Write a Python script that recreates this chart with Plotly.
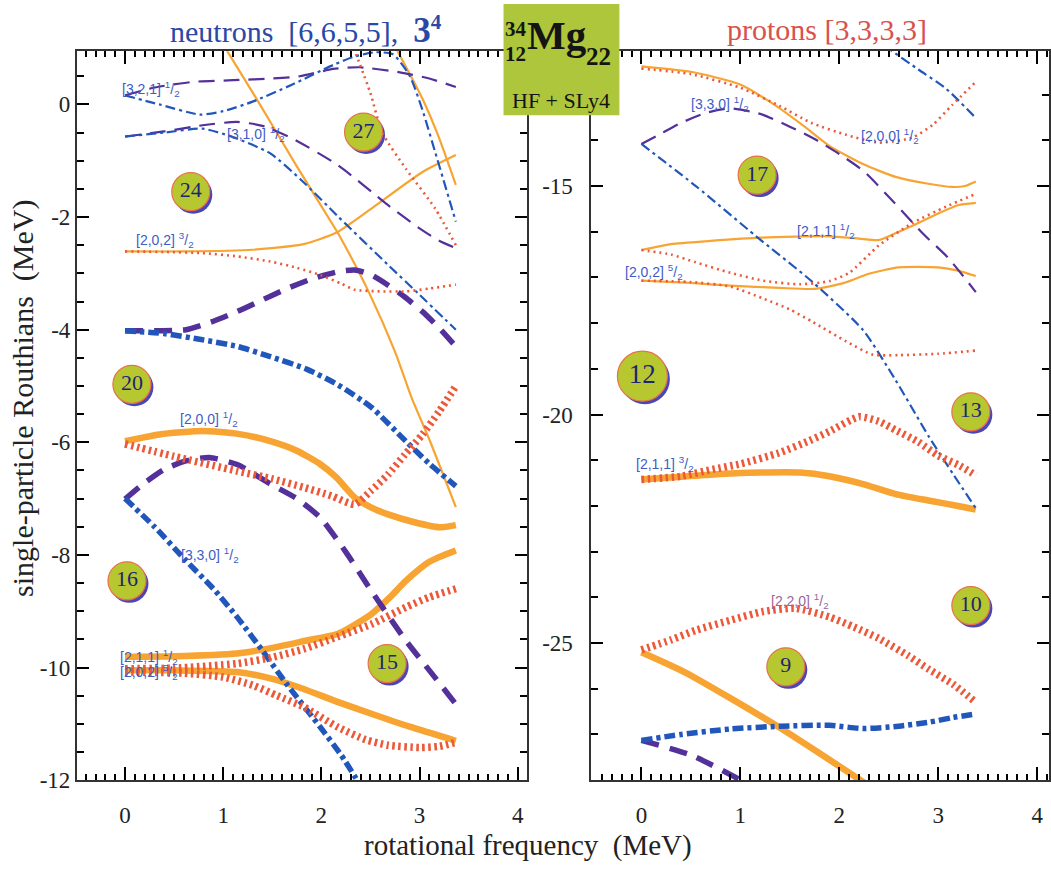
import plotly.graph_objects as go

# ---------------- neutron Routhians (left panel) ----------------
# rotational frequency (MeV) and Routhian (MeV) for each level
n_321_w = [0, 0.3, 0.69, 1.1, 1.5, 1.78, 2.12, 2.39, 2.8, 3.1, 3.37]
n_321_e = [0.16, 0.3, 0.4, 0.43, 0.46, 0.5, 0.63, 0.66, 0.57, 0.46, 0.31]

n_321b_w = [0, 0.35, 0.76, 1.0, 1.3, 1.7, 2.12, 2.32, 2.55, 2.73, 2.9, 3.03, 3.16, 3.37]
n_321b_e = [0.16, 0.0, -0.18, -0.12, 0.05, 0.35, 0.7, 0.84, 0.93, 0.89, 0.51, -0.1, -0.85, -2.08]

n_310_w = [0, 0.4, 0.79, 1.14, 1.4, 1.7, 2.17, 2.68, 3.0, 3.2, 3.37]
n_310_e = [-0.57, -0.48, -0.37, -0.31, -0.38, -0.6, -1.08, -1.79, -2.2, -2.42, -2.55]

n_310b_w = [0, 0.4, 0.79, 1.1, 1.48, 1.8, 2.17, 2.68, 3.0, 3.37]
n_310b_e = [-0.57, -0.5, -0.43, -0.58, -0.87, -1.35, -1.99, -2.85, -3.38, -4.0]

n_steep1_w = [0.98, 1.34, 1.75, 2.15, 2.2, 2.48, 2.75, 2.92, 3.1, 3.37]
n_steep1_e = [1.12, 0.1, -1.1, -2.23, -2.38, -3.32, -4.39, -5.21, -5.95, -7.15]

n_202a_w = [0, 0.6, 1.3, 1.82, 2.15, 2.51, 3.03, 3.37]
n_202a_e = [-2.61, -2.61, -2.58, -2.48, -2.28, -1.85, -1.2, -0.9]

n_steep2_w = [2.76, 3.03, 3.2, 3.37]
n_steep2_e = [1.0, 0.1, -0.6, -1.43]

n_dot1_w = [2.33, 2.5, 2.62, 2.86, 3.16, 3.37]
n_dot1_e = [1.0, 0.2, -0.5, -1.14, -1.85, -2.5]

n_202b_w = [0, 0.4, 0.79, 1.15, 1.48, 1.75, 1.99, 2.2, 2.34, 2.6, 2.86, 3.1, 3.37]
n_202b_e = [-2.61, -2.62, -2.64, -2.7, -2.79, -2.9, -3.03, -3.18, -3.29, -3.32, -3.32, -3.27, -3.2]

n_d4_w = [0, 0.3, 0.62, 0.9, 1.14, 1.4, 1.65, 1.9, 2.17, 2.34, 2.5, 2.68, 2.85, 3.03, 3.2, 3.37]
n_d4_e = [-4.02, -4.02, -4.0, -3.85, -3.68, -3.47, -3.27, -3.1, -2.97, -2.94, -3.02, -3.21, -3.42, -3.68, -3.97, -4.3]

n_c4_w = [0, 0.4, 0.79, 1.15, 1.48, 1.85, 2.17, 2.51, 2.86, 3.1, 3.37]
n_c4_e = [-4.02, -4.07, -4.18, -4.3, -4.48, -4.7, -4.98, -5.38, -5.98, -6.38, -6.78]

n_200_w = [0, 0.35, 0.79, 1.15, 1.48, 1.75, 1.99, 2.15, 2.34, 2.5, 2.68, 2.95, 3.2, 3.37]
n_200_e = [-5.98, -5.86, -5.8, -5.85, -5.98, -6.15, -6.39, -6.62, -6.98, -7.15, -7.28, -7.42, -7.51, -7.47]

n_200b_w = [0, 0.5, 1.14, 1.5, 1.82, 2.1, 2.34, 2.5, 2.68, 2.85, 3.03, 3.2, 3.37]
n_200b_e = [-6.03, -6.25, -6.51, -6.65, -6.8, -6.95, -7.1, -6.87, -6.57, -6.22, -5.86, -5.45, -5.0]

n_d7_w = [0, 0.2, 0.4, 0.62, 0.86, 1.15, 1.48, 1.75, 1.99, 2.25, 2.51, 2.86, 3.1, 3.37]
n_d7_e = [-7.01, -6.72, -6.48, -6.33, -6.27, -6.4, -6.74, -7.0, -7.34, -7.95, -8.64, -9.52, -10.05, -10.65]

n_330_w = [0, 0.3, 0.62, 0.9, 1.14, 1.4, 1.65, 1.99, 2.2, 2.4]
n_330_e = [-7.0, -7.5, -8.1, -8.6, -9.1, -9.7, -10.3, -11.06, -11.55, -12.1]

n_211_w = [0, 0.5, 1.14, 1.5, 1.85, 2.17, 2.51, 2.7, 2.86, 3.1, 3.37]
n_211_e = [-9.81, -9.8, -9.75, -9.65, -9.52, -9.4, -9.05, -8.75, -8.46, -8.12, -7.92]

n_211b_w = [0, 0.5, 1.14, 1.5, 1.82, 2.17, 2.51, 2.86, 3.1, 3.37]
n_211b_e = [-10.02, -10.01, -9.93, -9.82, -9.67, -9.45, -9.23, -8.93, -8.75, -8.6]

n_202c_w = [0, 0.5, 1.14, 1.5, 1.82, 2.15, 2.51, 2.9, 3.37]
n_202c_e = [-10.05, -10.05, -10.08, -10.2, -10.38, -10.6, -10.82, -11.05, -11.3]

n_202d_w = [0, 0.6, 1.0, 1.31, 1.55, 1.82, 2.17, 2.45, 2.68, 3.0, 3.2, 3.37]
n_202d_e = [-10.08, -10.1, -10.17, -10.32, -10.5, -10.7, -11.06, -11.28, -11.38, -11.42, -11.4, -11.33]

# ---------------- proton Routhians (right panel) ----------------
p_top_w = [0, 0.5, 1.0, 1.35, 1.65, 1.9, 2.24, 2.57, 2.9, 3.14, 3.27, 3.38]
p_top_e = [-12.38, -12.5, -12.78, -13.23, -13.7, -14.12, -14.52, -14.8, -14.95, -15.02, -15.0, -14.9]

p_200_w = [0, 0.5, 1.0, 1.4, 1.72, 2.07, 2.4, 2.74, 2.95, 3.14, 3.38]
p_200_e = [-12.43, -12.55, -12.85, -13.25, -13.62, -13.88, -14.05, -13.94, -13.65, -13.23, -12.72]

p_c1_w = [2.45, 2.8, 3.08, 3.38]
p_c1_e = [-11.92, -12.45, -12.87, -13.51]

p_330_w = [0, 0.2, 0.4, 0.65, 0.9, 1.2, 1.5, 1.75, 2.0, 2.25, 2.55, 2.85, 3.1, 3.38]
p_330_e = [-14.08, -13.85, -13.62, -13.4, -13.3, -13.42, -13.7, -13.97, -14.3, -14.68, -15.35, -16.05, -16.57, -17.32]

p_330b_w = [0, 0.55, 1.16, 1.73, 2.24, 2.57, 2.91, 3.15, 3.38]
p_330b_e = [-14.08, -15.0, -16.1, -17.1, -18.15, -19.25, -20.5, -21.3, -22.05]

p_211_w = [0, 0.3, 0.7, 1.2, 1.9, 2.2, 2.4, 2.55, 2.75, 3.0, 3.2, 3.38]
p_211_e = [-16.4, -16.27, -16.2, -16.13, -16.1, -16.15, -16.18, -16.05, -15.86, -15.6, -15.42, -15.37]

p_211b_w = [0, 0.3, 0.55, 0.9, 1.23, 1.6, 1.9, 2.1, 2.4, 2.74, 3.08, 3.38]
p_211b_e = [-16.4, -16.5, -16.67, -16.9, -17.07, -17.15, -17.08, -16.9, -16.3, -15.81, -15.45, -15.17]

p_202_w = [0, 0.5, 0.9, 1.4, 1.75, 2.05, 2.3, 2.6, 3.0, 3.2, 3.38]
p_202_e = [-17.07, -17.12, -17.18, -17.23, -17.25, -17.12, -16.92, -16.78, -16.78, -16.85, -16.97]

p_202b_w = [0, 0.5, 0.9, 1.23, 1.5, 1.73, 2.07, 2.34, 2.6, 3.0, 3.38]
p_202b_e = [-17.07, -17.1, -17.2, -17.46, -17.7, -17.97, -18.4, -18.69, -18.7, -18.67, -18.6]

p_211c_w = [0, 0.4, 0.72, 1.0, 1.39, 1.7, 1.9, 2.2, 2.4, 2.57, 2.8, 3.0, 3.2, 3.38]
p_211c_e = [-21.42, -21.35, -21.2, -21.08, -20.84, -20.57, -20.37, -20.05, -20.15, -20.34, -20.6, -20.9, -21.1, -21.33]

p_211d_w = [0, 0.4, 0.8, 1.2, 1.6, 1.9, 2.24, 2.57, 2.9, 3.2, 3.38]
p_211d_e = [-21.42, -21.36, -21.3, -21.27, -21.27, -21.35, -21.52, -21.74, -21.88, -22.0, -22.08]

p_220_w = [0, 0.3, 0.55, 0.9, 1.23, 1.56, 1.9, 2.15, 2.4, 2.7, 2.91, 3.15, 3.36]
p_220_e = [-25.15, -24.93, -24.72, -24.5, -24.31, -24.24, -24.43, -24.65, -24.9, -25.28, -25.58, -25.9, -26.26]

p_220b_w = [0, 0.45, 1.36, 2.25]
p_220b_e = [-25.2, -25.65, -26.8, -28.05]

p_b9_w = [0, 0.4, 0.9, 1.4, 1.9, 2.24, 2.6, 2.91, 3.15, 3.38]
p_b9_e = [-27.13, -27.0, -26.88, -26.82, -26.8, -26.87, -26.82, -26.73, -26.63, -26.55]

p_d9_w = [0, 0.5, 1.05]
p_d9_e = [-27.13, -27.45, -28.05]

# particle numbers in the gaps
n_gap_w = [2.43, 0.67, 0.07, 0.02, 2.67]
n_gap_e = [-0.49, -1.55, -4.97, -8.46, -9.93]
n_gap_lbl = ["27", "24", "20", "16", "15"]

p_gap_w = [1.17, 0.01, 3.33, 3.33, 1.46]
p_gap_e = [-14.76, -19.16, -19.94, -24.18, -25.52]
p_gap_lbl = ["17", "12", "13", "10", "9"]

# orbital labels [N, nz, Lambda] Omega
n_lbl_w = [-0.05, 1.02, 0.09, 0.54, 0.55, -0.07, -0.07]
n_lbl_e = [0.28, -0.52, -2.41, -5.59, -8.01, -9.81, -10.08]
n_lbl_t = ["[3,2,1]", "[3,1,0]", "[2,0,2]", "[2,0,0]", "[3,3,0]", "[2,1,1]", "[2,0,2]"]
n_lbl_o = ["1", "1", "3", "1", "1", "1", "5"]

p_lbl_w = [0.48, 2.2, 1.55, -0.19, -0.07, 1.29]
p_lbl_e = [-13.2, -13.91, -15.99, -16.89, -21.09, -24.07]
p_lbl_t = ["[3,3,0]", "[2,0,0]", "[2,1,1]", "[2,0,2]", "[2,1,1]", "[2,2,0]"]
p_lbl_o = ["1", "1", "1", "5", "3", "1"]

# axis ticks
n_yticks = [0, -2, -4, -6, -8, -10, -12]
p_yticks = [-15, -20, -25]

# ---------------- styles ----------------
ORANGE = "#f7a432"
RED = "#ec5838"
PURPLE = "#53309a"
BLUE = "#2157bb"
STY = {
    "o": dict(color=ORANGE, width=2.2, dash="solid"),
    "O": dict(color=ORANGE, width=6.5, dash="solid"),
    "r": dict(color=RED, width=2.6, dash="2px,4px"),
    "R": dict(color=RED, width=7.5, dash="2.5px,3.5px"),
    "p": dict(color=PURPLE, width=2.2, dash="16px,9px"),
    "P": dict(color=PURPLE, width=5.5, dash="18px,11px"),
    "b": dict(color=BLUE, width=2.2, dash="10px,4px,3px,4px"),
    "B": dict(color=BLUE, width=5.5, dash="11px,4px,4px,4px"),
}

left_curves = [
    (n_steep1_w, n_steep1_e, "o"), (n_202a_w, n_202a_e, "o"), (n_steep2_w, n_steep2_e, "o"),
    (n_200_w, n_200_e, "O"), (n_211_w, n_211_e, "O"), (n_202c_w, n_202c_e, "O"),
    (n_321_w, n_321_e, "p"), (n_310_w, n_310_e, "p"), (n_d4_w, n_d4_e, "P"), (n_d7_w, n_d7_e, "P"),
    (n_321b_w, n_321b_e, "b"), (n_310b_w, n_310b_e, "b"), (n_c4_w, n_c4_e, "B"), (n_330_w, n_330_e, "B"),
    (n_dot1_w, n_dot1_e, "r"), (n_202b_w, n_202b_e, "r"), (n_200b_w, n_200b_e, "R"),
    (n_211b_w, n_211b_e, "R"), (n_202d_w, n_202d_e, "R"),
]
right_curves = [
    (p_top_w, p_top_e, "o"), (p_211_w, p_211_e, "o"), (p_202_w, p_202_e, "o"),
    (p_211d_w, p_211d_e, "O"), (p_220b_w, p_220b_e, "O"),
    (p_330_w, p_330_e, "p"), (p_d9_w, p_d9_e, "P"),
    (p_c1_w, p_c1_e, "b"), (p_330b_w, p_330b_e, "b"), (p_b9_w, p_b9_e, "B"),
    (p_200_w, p_200_e, "r"), (p_211b_w, p_211b_e, "r"), (p_202b_w, p_202b_e, "r"),
    (p_211c_w, p_211c_e, "R"), (p_220_w, p_220_e, "R"),
]

fig = go.Figure()
for xs, ys, s in left_curves:
    fig.add_trace(go.Scatter(x=xs, y=ys, mode="lines", line=dict(shape="spline", smoothing=0.6, **STY[s]),
                             xaxis="x", yaxis="y", hoverinfo="skip", showlegend=False))
for xs, ys, s in right_curves:
    fig.add_trace(go.Scatter(x=xs, y=ys, mode="lines", line=dict(shape="spline", smoothing=0.6, **STY[s]),
                             xaxis="x2", yaxis="y2", hoverinfo="skip", showlegend=False))

# gap-number discs with a blue drop shadow
BALL = "#b7c72f"
shapes = []
def add_balls(ws, es, lbls, xa, ya, big=None):
    sizes = []
    for w, e, t in zip(ws, es, lbls):
        d = 50 if t == big else 38
        sizes.append(d)
        r = d / 2
        shapes.append(dict(type="circle", xref=xa, yref=ya, xsizemode="pixel", ysizemode="pixel",
                           xanchor=w, yanchor=e, x0=-r + 2.5, x1=r + 2.5, y0=-r - 3, y1=r - 3,
                           fillcolor="#4a46b4", line=dict(width=0), layer="below"))
    fig.add_trace(go.Scatter(x=ws, y=es, mode="markers+text", text=lbls,
                             textfont=dict(family="Liberation Serif", size=[27 if t == big else 22 for t in lbls], color="#1c2673"),
                             marker=dict(size=sizes, color=BALL, opacity=1, line=dict(color="#e8714c", width=1.2)),
                             xaxis=xa, yaxis=ya, hoverinfo="skip", showlegend=False, cliponaxis=False))

add_balls(n_gap_w, n_gap_e, n_gap_lbl, "x", "y")
add_balls(p_gap_w, p_gap_e, p_gap_lbl, "x2", "y2", big="12")

annotations = []
LBL_BLUE = "#3e5cc6"
for w, e, t, o in zip(n_lbl_w, n_lbl_e, n_lbl_t, n_lbl_o):
    annotations.append(dict(x=w, y=e, xref="x", yref="y", xanchor="left", yanchor="middle", showarrow=False,
                            text=f"{t} <sup>{o}</sup>/<sub>2</sub>",
                            font=dict(family="Liberation Sans", size=14, color=LBL_BLUE)))
for w, e, t, o in zip(p_lbl_w, p_lbl_e, p_lbl_t, p_lbl_o):
    col = "#9b6698" if t == "[2,2,0]" else LBL_BLUE
    annotations.append(dict(x=w, y=e, xref="x2", yref="y2", xanchor="left", yanchor="middle", showarrow=False,
                            text=f"{t} <sup>{o}</sup>/<sub>2</sub>",
                            font=dict(family="Liberation Sans", size=14, color=col)))

W, H = 1051, 870
def px(xp, yp):
    return xp / W, 1 - yp / H

SERIF = "Liberation Serif"
# panel titles
x, y = px(306, 30)
annotations.append(dict(x=x, y=y, xref="paper", yref="paper", showarrow=False, xanchor="center", yanchor="middle",
                        text="neutrons  [6,6,5,5],  <b><span style='font-size:35px'>3</span><sup>4</sup></b>",
                        font=dict(family=SERIF, size=30, color="#2a48a6")))
x, y = px(828, 30)
annotations.append(dict(x=x, y=y, xref="paper", yref="paper", showarrow=False, xanchor="center", yanchor="middle",
                        text="protons [3,3,3,3]", font=dict(family=SERIF, size=30, color="#d8524c")))
# nucleus box text
for txt, xp, yp, sz, anc in [("<b>34</b>", 516, 29, 21, "center"), ("<b>12</b>", 516, 55, 21, "center"),
                             ("<b>Mg</b>", 525, 36, 41, "left"), ("<b>22</b>", 585, 57, 25, "left"),
                             ("HF + SLy4", 562, 102, 22, "center")]:
    x, y = px(xp, yp)
    annotations.append(dict(x=x, y=y, xref="paper", yref="paper", showarrow=False, xanchor=anc, yanchor="middle",
                            text=txt, font=dict(family=SERIF, size=sz, color="#141414")))
# axis titles
x, y = px(529, 858)
annotations.append(dict(x=x, y=y, xref="paper", yref="paper", showarrow=False, xanchor="center", yanchor="middle",
                        text="rotational frequency  (MeV)", font=dict(family=SERIF, size=29, color="#222")))
x, y = px(23, 404)
annotations.append(dict(x=x, y=y, xref="paper", yref="paper", showarrow=False, xanchor="center", yanchor="middle",
                        textangle=-90, text="single-particle Routhians  (MeV)",
                        font=dict(family=SERIF, size=30, color="#222")))

bx0, by1 = px(504, 4)
bx1, by0 = px(620, 117)
shapes.append(dict(type="rect", xref="paper", yref="paper", x0=bx0, x1=bx1, y0=by0, y1=by1,
                   fillcolor="#aec63b", line=dict(width=0), layer="above"))

AX = dict(showline=True, linecolor="#333", linewidth=2, mirror="allticks", ticks="inside",
          tickcolor="black", tickwidth=2, showgrid=False, zeroline=False,
          tickfont=dict(family=SERIF, size=23, color="#222"))

yd = [(H - 792) / H, (H - 52) / H]
fig.update_layout(
    width=W, height=H, margin=dict(l=0, r=0, t=0, b=0), autosize=False,
    paper_bgcolor="white", plot_bgcolor="white", showlegend=False,
    xaxis=dict(domain=[77 / W, 528 / W], range=[-0.49, 4.10], tickmode="linear", tick0=0, dtick=1,
               ticklen=13, ticklabelstandoff=13,
               minor=dict(dtick=0.1, ticks="inside", ticklen=6),
               anchor="y", **AX),
    yaxis=dict(domain=yd, range=[-12, 0.945], tickmode="array", tickvals=n_yticks,
               ticktext=[str(v) for v in n_yticks], ticklen=12,
               minor=dict(dtick=0.5, ticks="inside", ticklen=7),
               anchor="x", **AX),
    xaxis2=dict(domain=[592 / W, 1050 / W], range=[-0.505, 4.12], tickmode="linear", tick0=0, dtick=1,
                ticklen=13, ticklabelstandoff=13,
                minor=dict(dtick=0.1, ticks="inside", ticklen=6),
                anchor="y2", **AX),
    yaxis2=dict(domain=yd, range=[-28, -12.05], tickmode="array", tickvals=p_yticks,
                ticktext=[str(v) for v in p_yticks], ticklen=12, ticklabelstandoff=12,
                minor=dict(dtick=1, ticks="inside", ticklen=7),
                anchor="x2", **AX),
    shapes=shapes, annotations=annotations,
)

fig.write_html("out.html")
